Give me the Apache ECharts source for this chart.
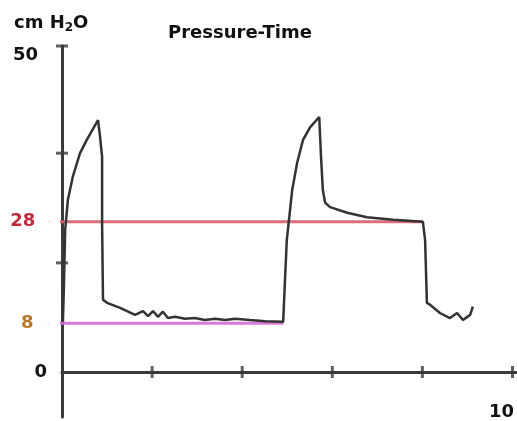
<!DOCTYPE html>
<html>
<head>
<meta charset="utf-8">
<script src="https://cdn.jsdelivr.net/npm/echarts@6/dist/echarts.min.js"></script>
<style>html,body{margin:0;padding:0;background:#fff}#c{width:517px;height:421px}</style>
</head>
<body>
<div id="c"></div>
<script>
var titleText = 'Pressure-Time';
var yUnit = 'cm H{s|2}O';
var time = [0.02, 0.04, 0.07, 0.13, 0.24, 0.40, 0.55, 0.80, 0.84, 0.89, 0.89, 0.91, 1.00, 1.29, 1.62, 1.80, 1.91, 2.02, 2.13, 2.24, 2.35, 2.51, 2.73, 2.95, 3.17, 3.40, 3.62, 3.84, 4.17, 4.51, 4.91, 4.95, 4.99, 5.11, 5.22, 5.35, 5.51, 5.71, 5.75, 5.79, 5.84, 5.95, 6.33, 6.77, 7.35, 8.01, 8.06, 8.10, 8.17, 8.39, 8.61, 8.77, 8.90, 9.06, 9.12];
var pressure = [7.9, 12.9, 22.4, 27.1, 30.8, 34.5, 36.6, 39.7, 37.4, 33.9, 23.5, 11.4, 10.9, 10.1, 9.0, 9.6, 8.8, 9.6, 8.7, 9.5, 8.5, 8.7, 8.4, 8.5, 8.2, 8.4, 8.2, 8.4, 8.2, 8.0, 7.9, 14.5, 20.8, 28.7, 33.0, 36.6, 38.6, 40.2, 33.9, 28.7, 26.7, 26.0, 25.1, 24.4, 24.0, 23.7, 20.8, 10.9, 10.6, 9.3, 8.5, 9.3, 8.2, 9.0, 10.3];
var levelLabels = ['28', '8'];
var levelValues = [23.7, 7.7];
var levelStart = [-0.27, -0.31];
var levelEnd = [8.01, 4.91];
var levelColors = ['#dc5c69', '#d46cd6'];
var levelTextColors = ['#c22a3a', '#b8772a'];
var xTicks = [2, 4, 6, 8, 10];
var xEndLabel = '10';
var yTicks = [17.2, 34.5, 51.4];
var yLabels = [0, 50];

var FONT = 'DejaVu Sans';
var AX = '#3a3a3a';
var curve = time.map(function (t, i) { return [t, pressure[i]]; });

var levelSeries = levelValues.map(function (v, i) {
  return {
    type: 'line', clip: false, silent: true, z: 2,
    showSymbol: true, symbol: 'circle', symbolSize: 1,
    itemStyle: { color: levelColors[i] },
    lineStyle: { color: levelColors[i], width: 3, opacity: 0.9 },
    label: { show: false },
    data: [
      { value: [levelStart[i], v],
        label: { show: true, position: 'left', distance: 14, formatter: levelLabels[i],
                 color: levelTextColors[i], fontFamily: FONT, fontWeight: 'bold', fontSize: 18 } },
      { value: [levelEnd[i], v] }
    ]
  };
});

var chart = echarts.init(document.getElementById('c'), null, { renderer: 'canvas' });
chart.setOption({
  animation: false,
  backgroundColor: '#fff',
  title: [
    { text: titleText, left: 163, top: 19, textStyle: { fontFamily: FONT, fontWeight: 'bold', fontSize: 18, color: '#111' } },
    { text: yUnit, left: 9, top: 8,
      textStyle: { fontFamily: FONT, fontWeight: 'bold', fontSize: 18, color: '#111',
        rich: { s: { fontFamily: FONT, fontWeight: 'bold', fontSize: 12, color: '#111', padding: [9, 0, 0, 0] } } } }
  ],
  grid: { left: 62, right: 0, top: 46, bottom: 4, containLabel: false, outerBoundsMode: 'none' },
  xAxis: { type: 'value', min: 0, max: 10.1, position: 'bottom',
    name: xEndLabel, nameLocation: 'end', nameGap: -3,
    nameTextStyle: { align: 'right', verticalAlign: 'top', padding: [31, 0, 0, 0], color: '#111',
                     fontFamily: FONT, fontWeight: 'bold', fontSize: 18 },
    axisLine: { show: true, onZero: true, lineStyle: { color: AX, width: 3 } },
    axisTick: { show: false },
    axisLabel: { show: false },
    splitLine: { show: false } },
  yAxis: { type: 'value', min: -7.1, max: 51.4, position: 'left',
    axisLine: { show: true, onZero: true, lineStyle: { color: AX, width: 3 } },
    axisTick: { show: false },
    axisLabel: { show: true, customValues: yLabels, margin: 15, color: '#111',
                 fontFamily: FONT, fontWeight: 'bold', fontSize: 18,
                 formatter: function (v) { return v === 50 ? '{p|50}' : String(v); },
                 rich: { p: { fontFamily: FONT, fontWeight: 'bold', fontSize: 18, color: '#111', padding: [0, 9, 0, 0] } } },
    splitLine: { show: false } },
  series: levelSeries.concat([
    { type: 'line', data: curve, clip: false, showSymbol: false, symbol: 'none', smooth: false,
      lineStyle: { color: '#333', width: 2.5 }, z: 3, silent: true },
    { type: 'scatter', silent: true, z: 4, clip: false,
      data: xTicks.map(function (t) { return [t, 0]; }),
      symbol: 'rect', symbolSize: [3, 12], itemStyle: { color: AX } },
    { type: 'scatter', silent: true, z: 4, clip: false,
      data: yTicks.map(function (t) { return [0, t]; }),
      symbol: 'rect', symbolSize: [12, 3], itemStyle: { color: AX } }
  ])
});
</script>
</body>
</html>
